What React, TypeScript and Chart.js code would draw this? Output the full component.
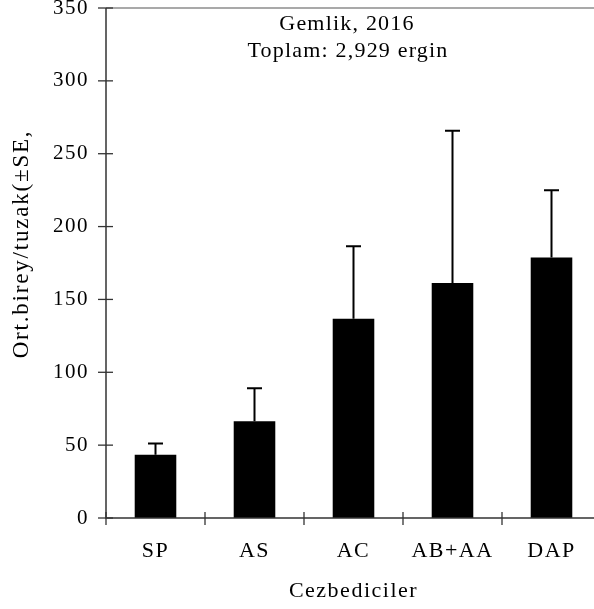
import React, { useEffect, useRef } from "react";
import { Chart, registerables } from "chart.js";

Chart.register(...registerables);

// ---- data ----
const categories = ["SP", "AS", "AC", "AB+AA", "DAP"];
const meanValues = [43.4, 66.4, 136.8, 161.3, 178.7];
const seValues = [7.7, 22.6, 49.7, 104.4, 46.3];
const yMin = 0;
const yMax = 350;
const yStep = 50;
const noteLines = ["Gemlik, 2016", "Toplam: 2,929 ergin"];
const xTitle = "Cezbediciler";
const yTitle = "Ort.birey/tuzak(±SE,";

const FONT = '"Liberation Serif", "Times New Roman", serif';

const spacing = {
  id: "spacing",
  beforeDraw(chart: any) {
    (chart.ctx as any).letterSpacing = "1.5px";
  },
};

const overlay = {
  id: "overlay",
  afterDatasetsDraw(chart: any) {
    const { ctx, chartArea: a, scales } = chart;
    const xs = scales.x;
    const ys = scales.y;
    ctx.save();

    // error bars (upper only)
    const meta = chart.getDatasetMeta(0);
    ctx.strokeStyle = "#000";
    ctx.lineWidth = 2;
    meta.data.forEach((bar: any, i: number) => {
      const cx = bar.x;
      const yBar = ys.getPixelForValue(meanValues[i]);
      const yTop = ys.getPixelForValue(meanValues[i] + seValues[i]);
      ctx.beginPath();
      ctx.moveTo(cx, yBar);
      ctx.lineTo(cx, yTop);
      ctx.moveTo(cx - 7.5, yTop);
      ctx.lineTo(cx + 7.5, yTop);
      ctx.stroke();
    });

    // top border line
    ctx.strokeStyle = "#8c8c8c";
    ctx.lineWidth = 1.5;
    ctx.beginPath();
    ctx.moveTo(a.left, a.top);
    ctx.lineTo(a.right, a.top);
    ctx.stroke();

    // axes
    ctx.strokeStyle = "#333";
    ctx.lineWidth = 1.5;
    ctx.beginPath();
    ctx.moveTo(a.left, a.top);
    ctx.lineTo(a.left, a.bottom);
    ctx.lineTo(a.right, a.bottom);
    ctx.stroke();

    // y tick marks (crossing)
    ctx.lineWidth = 1.3;
    ys.ticks.forEach((t: any) => {
      const py = ys.getPixelForValue(t.value);
      ctx.beginPath();
      ctx.moveTo(a.left - 8, py);
      ctx.lineTo(a.left + 7, py);
      ctx.stroke();
    });
    // x tick marks at category boundaries (crossing)
    for (let i = 0; i <= categories.length; i++) {
      const px = xs.getPixelForValue(i - 0.5);
      ctx.beginPath();
      ctx.moveTo(px, a.bottom - 6);
      ctx.lineTo(px, a.bottom + 7);
      ctx.stroke();
    }

    // annotation text
    ctx.fillStyle = "#000";
    ctx.letterSpacing = "1.2px";
    ctx.font = `22px ${FONT}`;
    ctx.textAlign = "center";
    ctx.textBaseline = "middle";
    ctx.fillText(noteLines[0], 347, 24);
    ctx.fillText(noteLines[1], 348, 51);

    // y axis title
    ctx.letterSpacing = "1.8px";
    ctx.font = `23px ${FONT}`;
    ctx.translate(22, 244);
    ctx.rotate(-Math.PI / 2);
    ctx.fillText(yTitle, 0, 0);

    ctx.restore();
  },
};

export default function App() {
  const ref = useRef<HTMLCanvasElement>(null);

  useEffect(() => {
    if (!ref.current) return;
    const chart = new Chart(ref.current, {
      type: "bar",
      data: {
        labels: categories,
        datasets: [
          {
            data: meanValues,
            backgroundColor: "#000",
            borderWidth: 0,
            barPercentage: 0.42,
            categoryPercentage: 1,
          },
        ],
      },
      options: {
        responsive: false,
        animation: false,
        devicePixelRatio: 1,
        layout: { padding: { top: 8, left: 0, right: 0, bottom: 0 } },
        plugins: {
          legend: { display: false },
          tooltip: { enabled: false },
        },
        scales: {
          x: {
            type: "category",
            offset: true,
            grid: { display: false, drawTicks: false },
            border: { display: false },
            ticks: {
              color: "#000",
              font: { family: FONT, size: 22 },
              padding: 20,
              maxRotation: 0,
              autoSkip: false,
            },
            title: {
              display: true,
              text: xTitle,
              color: "#000",
              font: { family: FONT, size: 22 },
              padding: { top: 0, bottom: 5 },
            },
            afterFit(s: any) {
              s.height = 91;
              s.paddingLeft = 0;
              s.paddingRight = 0;
            },
          },
          y: {
            min: yMin,
            max: yMax,
            grid: { display: false, drawTicks: false },
            border: { display: false },
            ticks: {
              stepSize: yStep,
              color: "#000",
              font: { family: FONT, size: 21 },
              padding: 17,
            },
            afterFit(s: any) {
              s.width = 106;
              s.paddingTop = 0;
              s.paddingBottom = 0;
            },
          },
        },
      },
      plugins: [spacing, overlay],
    });
    return () => chart.destroy();
  }, []);

  return (
    <div
      style={{
        position: "absolute",
        left: 0,
        top: 0,
        width: 594,
        height: 609,
        overflow: "hidden",
        background: "#fff",
      }}
    >
      <canvas ref={ref} width={601} height={609} style={{ display: "block" }} />
    </div>
  );
}
